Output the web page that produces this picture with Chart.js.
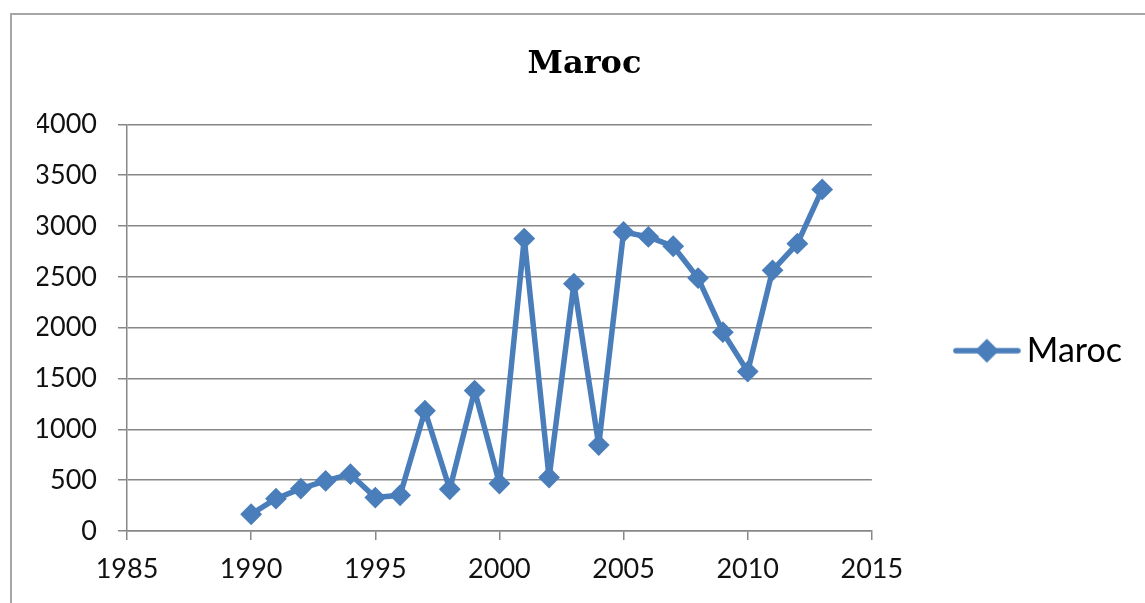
<!DOCTYPE html>
<html>
<head>
<meta charset="utf-8">
<script src="https://cdn.jsdelivr.net/npm/chart.js@4.4.1/dist/chart.umd.min.js"></script>
<style>
  html, body { margin: 0; padding: 0; background: #fff; overflow: hidden; }
  #wrap { position: relative; width: 1145px; height: 603px; }
  #frame {
    position: absolute; left: 10px; top: 13px; width: 1200px; height: 700px;
    border: 2px solid #a6a6a6; box-sizing: border-box; pointer-events: none;
  }
  canvas { position: absolute; left: 0; top: 0; }
</style>
</head>
<body>
<div id="wrap">
  <canvas id="chart" width="1145" height="603"></canvas>
  <div id="frame"></div>
</div>
<script>
// Morocco series, one value per year
const seriesName = 'Maroc';
const years = [1990, 1991, 1992, 1993, 1994, 1995, 1996, 1997, 1998, 1999, 2000, 2001,
               2002, 2003, 2004, 2005, 2006, 2007, 2008, 2009, 2010, 2011, 2012, 2013];
const values = [165, 318, 417, 493, 559, 329, 352, 1183, 411, 1381, 467, 2877,
                526, 2433, 845, 2942, 2893, 2801, 2488, 1956, 1568, 2564, 2827, 3360];
const xTicks = [1985, 1990, 1995, 2000, 2005, 2010, 2015];
const yTicks = [0, 500, 1000, 1500, 2000, 2500, 3000, 3500, 4000];

const blue = '#4a7ebb';
const gridGray = '#878787';

// legend key: short line with a diamond in the middle
function makeLegendIcon() {
  const c = document.createElement('canvas');
  c.width = 68; c.height = 26;
  const g = c.getContext('2d');
  g.strokeStyle = blue; g.lineWidth = 5.5; g.lineCap = 'round';
  g.beginPath(); g.moveTo(3, 13); g.lineTo(65, 13); g.stroke();
  g.fillStyle = blue;
  g.beginPath();
  g.moveTo(34, 1); g.lineTo(46, 13); g.lineTo(34, 25); g.lineTo(22, 13);
  g.closePath(); g.fill();
  return c;
}

const points = years.map((y, i) => ({ x: y, y: values[i] }));

new Chart(document.getElementById('chart'), {
  type: 'line',
  data: {
    datasets: [{
      label: seriesName,
      data: points,
      borderColor: blue,
      backgroundColor: blue,
      borderWidth: 5.5,
      borderJoinStyle: 'round',
      borderCapStyle: 'round',
      tension: 0,
      pointStyle: 'rectRot',
      pointRadius: 9.5,
      pointHoverRadius: 9.5,
      pointBorderWidth: 2,
      pointBackgroundColor: blue,
      pointBorderColor: blue
    }]
  },
  options: {
    responsive: false,
    animation: false,
    layout: { padding: { left: 37, right: 13, top: 0, bottom: 0 } },
    plugins: {
      title: {
        display: true,
        text: seriesName,
        color: '#000',
        font: { family: 'DejaVu Serif', size: 32, weight: 'bold' },
        padding: { top: 45, bottom: 41 }
      },
      legend: {
        display: true,
        position: 'right',
        title: {
          display: true,
          text: ' ',
          font: { size: 12 },
          padding: { top: 42, bottom: 42 }
        },
        labels: {
          usePointStyle: true,
          pointStyle: makeLegendIcon(),
          pointStyleWidth: 46,
          padding: 92,
          color: '#000',
          font: { family: 'Lato', size: 34 }
        }
      },
      tooltip: { enabled: false }
    },
    scales: {
      x: {
        type: 'linear',
        min: 1985,
        max: 2015,
        afterBuildTicks: (s) => { s.ticks = xTicks.map(v => ({ value: v })); },
        afterFit: (s) => { s.height = 72; },
        ticks: {
          padding: 13,
          color: '#111',
          font: { family: 'Lato', size: 27 },
          maxRotation: 0,
          callback: (v) => String(v)
        },
        grid: { drawOnChartArea: false, drawTicks: true, tickLength: 9, color: gridGray, lineWidth: 1.5 },
        border: { color: gridGray, width: 1.5 }
      },
      y: {
        min: 0,
        max: 4000,
        afterBuildTicks: (s) => { s.ticks = yTicks.map(v => ({ value: v })); },
        afterFit: (s) => { s.width = 90; },
        ticks: {
          padding: 21,
          color: '#111',
          font: { family: 'Lato', size: 27 },
          callback: (v) => String(v)
        },
        grid: { color: gridGray, lineWidth: 1.5, tickLength: 9 },
        border: { color: gridGray, width: 1.5 }
      }
    }
  }
});
</script>
</body>
</html>
